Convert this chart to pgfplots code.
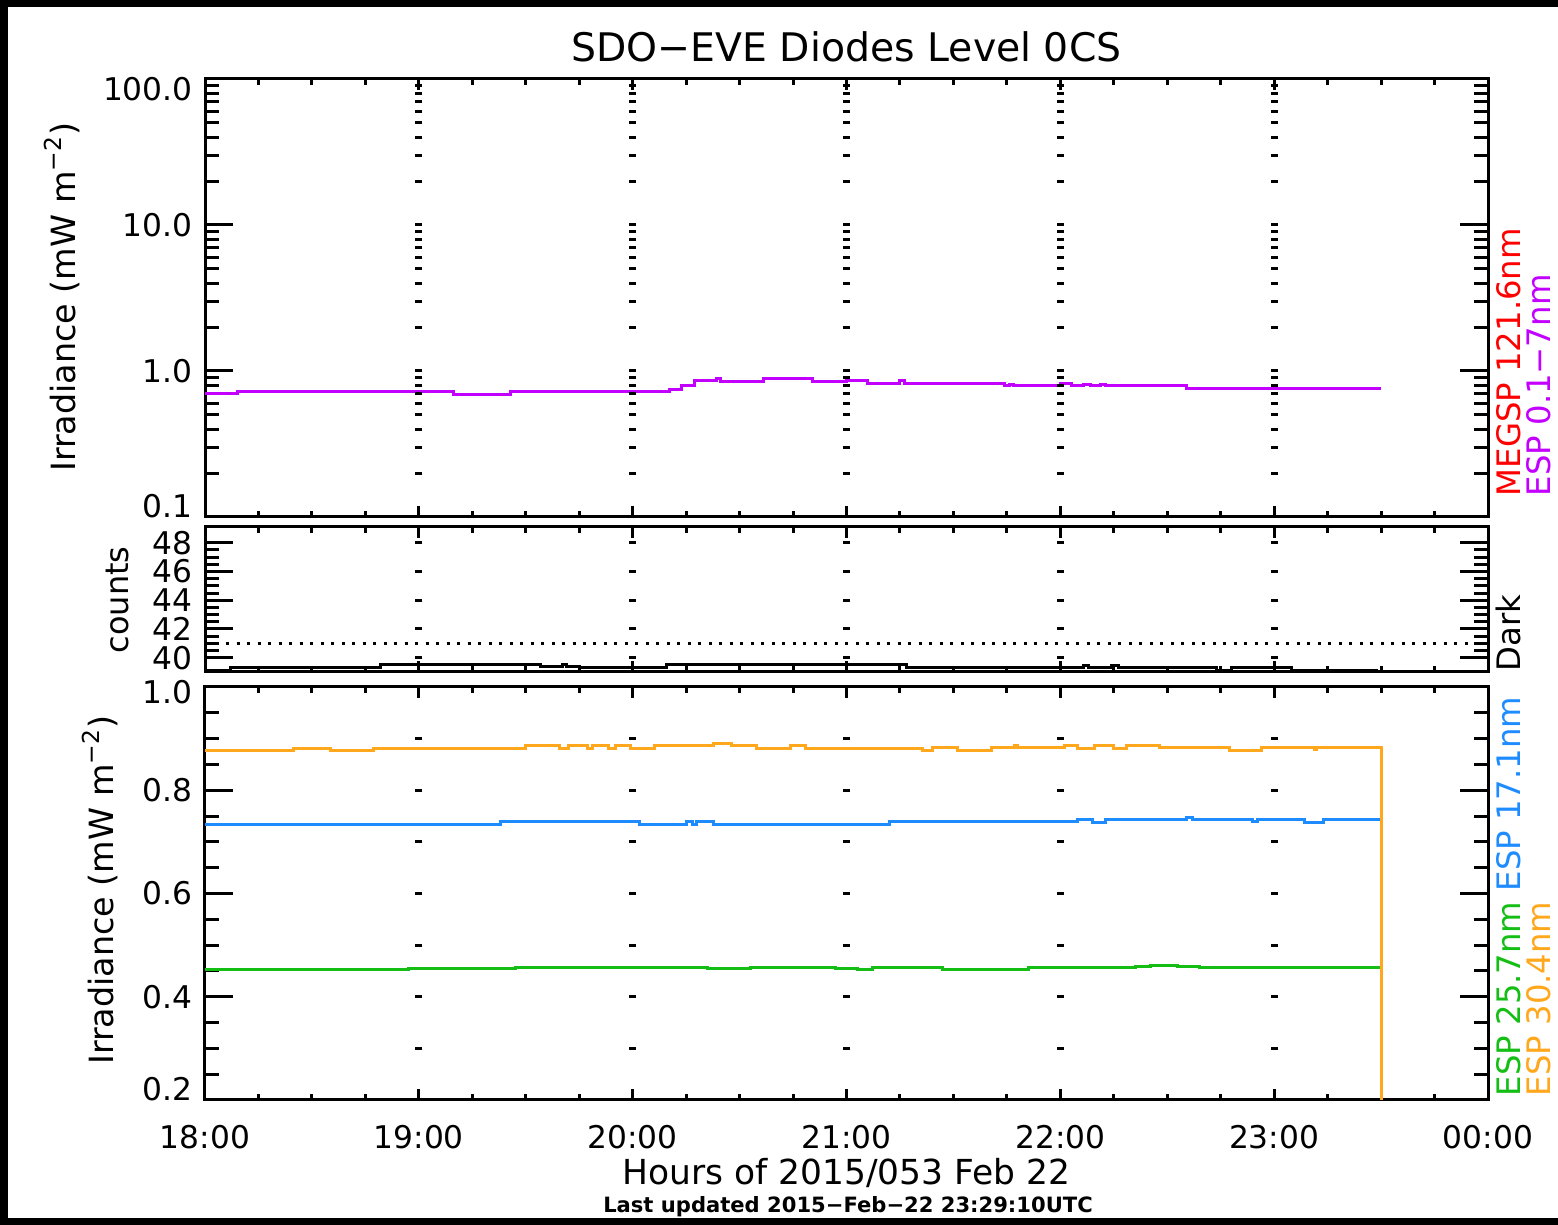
\documentclass[border=0pt]{standalone}
\usepackage{pgfplots}
\pgfplotsset{compat=1.18}
\usepackage{pgfplotstable}
\usepackage{fontspec}
\setmainfont{DejaVu Sans}
\definecolor{cpurple}{RGB}{195,0,255}
\definecolor{cred}{RGB}{255,0,0}
\definecolor{corange}{RGB}{255,168,30}
\definecolor{cblue}{RGB}{30,140,255}
\definecolor{cgreen}{RGB}{20,190,20}

\pgfplotstableread{
y
0.2
0.3
0.4
0.5
0.6
0.7
0.8
0.9
1
2
3
4
5
6
7
8
9
10
20
30
40
50
60
70
80
90
}\gridtop
\pgfplotstableread{
y
40
42
44
46
48
}\gridmid
\pgfplotstableread{
y
0.3
0.4
0.5
0.6
0.7
0.8
0.9
}\gridbot

\pgfplotsset{
  eve/.style={
    scale only axis, width=128.3mm,
    at={(20.5mm,#1)}, anchor=south west,
    xmin=18, xmax=24,
    axis line style={line width=0.3mm},
    every tick/.style={black, line width=0.3mm},
    tick align=inside,
    xtick={18,19,20,21,22,23,24}, minor x tick num=3,
    major tick length=2.8mm, minor tick length=1.4mm,
    xtick style={/pgfplots/major tick length=1.1mm, /pgfplots/minor tick length=0.6mm},
    tick label style={font=\fontsize{8.9}{10}\selectfont},
    /pgf/number format/assume math mode=true,
    xticklabels={},
  },
  gridmark/.style={only marks, mark=-, mark size=0.35mm, mark options={line width=0.3mm}, black, forget plot},
  dline/.style={line width=0.3mm, const plot, #1},
}

\begin{document}
\begin{tikzpicture}
\useasboundingbox (0,0) rectangle (155.8mm,122.5mm);
\fill[white] (-1mm,-1mm) rectangle (158mm,124mm);
\fill[black] (0,0) rectangle (0.8mm,122.5mm);
\fill[black] (0,121.8mm) rectangle (155.8mm,122.5mm);
\fill[black] (0,0) rectangle (155.8mm,0.7mm);

% ---------------- top panel
\begin{axis}[eve=70.8mm, height=43.8mm, ymode=log, ymin=0.1, ymax=100,
  ytick={0.1,1,10,100},
  yticklabels={\raisebox{1.1mm}[\height][\depth]{0.1},1.0,10.0,\raisebox{-1.0mm}[\height][\depth]{100.0}},
  minor ytick={0.2,0.3,0.4,0.5,0.6,0.7,0.8,0.9,2,3,4,5,6,7,8,9,20,30,40,50,60,70,80,90}]
\pgfplotsinvokeforeach{19,20,21,22,23}{\addplot[gridmark] table[x expr=#1, y=y]{\gridtop};}
\addplot[dline=cpurple] coordinates {
(18.00,0.70) (18.15,0.72) (19.16,0.69) (19.43,0.72) (20.17,0.75) (20.23,0.79)
(20.29,0.854) (20.39,0.89) (20.41,0.845) (20.61,0.89) (20.84,0.845) (21.00,0.854)
(21.10,0.82) (21.25,0.854) (21.27,0.82) (21.74,0.79) (21.76,0.81) (21.78,0.795)
(22.00,0.82) (22.05,0.795) (22.11,0.81) (22.14,0.795) (22.19,0.81) (22.21,0.795)
(22.59,0.757) (23.50,0.757)};
\end{axis}

% ---------------- middle panel
\begin{axis}[eve=55.3mm, height=14.5mm, ymin=39, ymax=49.1,
  ytick={40,42,44,46,48}, minor y tick num=3]
\pgfplotsinvokeforeach{19,20,21,22,23}{\addplot[gridmark] table[x expr=#1, y=y]{\gridmid};}
\addplot[black, line width=0.3mm, dash pattern=on 0.3mm off 0.75mm] coordinates {(18,41.0) (24,41.0)};
\addplot[dline=black] coordinates {
(18.00,39.08) (18.12,39.30) (18.82,39.50) (19.57,39.35) (19.67,39.50) (19.69,39.35)
(19.75,39.30) (20.16,39.50) (21.28,39.30) (22.11,39.42) (22.13,39.30) (22.24,39.45)
(22.27,39.30) (22.73,39.12) (22.80,39.30) (23.08,39.12) (23.48,39.05) (23.50,39.05)};
\end{axis}

% ---------------- bottom panel
\begin{axis}[eve=12.5mm, height=41.3mm, ymin=0.2, ymax=1.0,
  ytick={0.2,0.4,0.6,0.8,1.0},
  yticklabels={\raisebox{1.1mm}[\height][\depth]{0.2},0.4,0.6,0.8,\raisebox{-0.5mm}[\height][\depth]{1.0}},
  minor y tick num=3,
  xticklabels={18:00,19:00,20:00,21:00,22:00,23:00,00:00},
  xticklabel style={yshift=-1.3mm}]
\pgfplotsinvokeforeach{19,20,21,22,23}{\addplot[gridmark] table[x expr=#1, y=y]{\gridbot};}
\addplot[dline=cgreen] coordinates {
(18.00,0.452) (18.95,0.454) (19.45,0.456) (20.35,0.455) (20.55,0.457) (20.95,0.455)
(21.05,0.452) (21.12,0.456) (21.45,0.453) (21.85,0.456) (22.35,0.458) (22.42,0.461)
(22.55,0.458) (22.65,0.457) (23.50,0.457)};
\addplot[dline=cblue] coordinates {
(18.00,0.734) (19.38,0.739) (20.03,0.734) (20.25,0.739) (20.28,0.7335) (20.30,0.739)
(20.38,0.734) (21.20,0.739) (22.08,0.744) (22.15,0.7375) (22.21,0.7425) (22.59,0.748)
(22.62,0.7425) (22.90,0.739) (22.92,0.7425) (23.14,0.738) (23.23,0.7425) (23.50,0.7425)};
\addplot[dline=corange] coordinates {
(18.00,0.877) (18.415,0.881) (18.585,0.877) (18.79,0.881) (19.50,0.886) (19.66,0.881)
(19.70,0.886) (19.79,0.881) (19.81,0.886) (19.885,0.881) (19.92,0.886) (19.99,0.881)
(20.10,0.886) (20.38,0.891) (20.46,0.886) (20.58,0.881) (20.74,0.886) (20.81,0.881)
(21.355,0.877) (21.40,0.882) (21.52,0.877) (21.68,0.882) (21.785,0.887) (21.80,0.882)
(22.02,0.886) (22.08,0.881) (22.16,0.886) (22.25,0.881) (22.31,0.886) (22.465,0.882)
(22.79,0.877) (22.94,0.882) (23.19,0.879) (23.20,0.882) (23.50,0.882) (23.50,0.2)};
\end{axis}

% ---------------- texts
\node[font=\fontsize{11.2}{13}\selectfont] at (84.65mm,117.8mm) {SDO−EVE Diodes Level 0CS};
\node[rotate=90, font=\fontsize{9.5}{11}\selectfont] at (6.2mm,92.8mm) {Irradiance (mW m\textsuperscript{−2})};
\node[rotate=90, font=\fontsize{9.1}{11}\selectfont] at (11.7mm,62.5mm) {counts};
\node[rotate=90, font=\fontsize{9.5}{11}\selectfont] at (10.0mm,33.5mm) {Irradiance (mW m\textsuperscript{−2})};
\node[font=\fontsize{9.8}{11}\selectfont] at (84.65mm,5.2mm) {Hours of 2015/053 Feb 22};
\node[font=\bfseries\fontsize{6}{7}\selectfont] at (84.8mm,1.8mm) {Last updated 2015−Feb−22 23:29:10UTC};

\node[rotate=90, anchor=base west, inner sep=0pt, text=cred, font=\fontsize{9.2}{11}\selectfont] at (152.0mm,72.8mm) {MEGSP 121.6nm};
\node[rotate=90, anchor=base west, inner sep=0pt, text=cpurple, font=\fontsize{9.2}{11}\selectfont] at (155.0mm,72.8mm) {ESP 0.1−7nm};
\node[rotate=90, anchor=base west, inner sep=0pt, text=black, font=\fontsize{9.2}{11}\selectfont] at (152.0mm,55.3mm) {Dark};
\node[rotate=90, anchor=base west, inner sep=0pt, font=\fontsize{9.2}{11}\selectfont] at (152.0mm,12.8mm) {\color{cgreen}ESP 25.7nm \color{cblue}ESP 17.1nm};
\node[rotate=90, anchor=base west, inner sep=0pt, text=corange, font=\fontsize{9.2}{11}\selectfont] at (155.0mm,12.8mm) {ESP 30.4nm};
\end{tikzpicture}
\end{document}
